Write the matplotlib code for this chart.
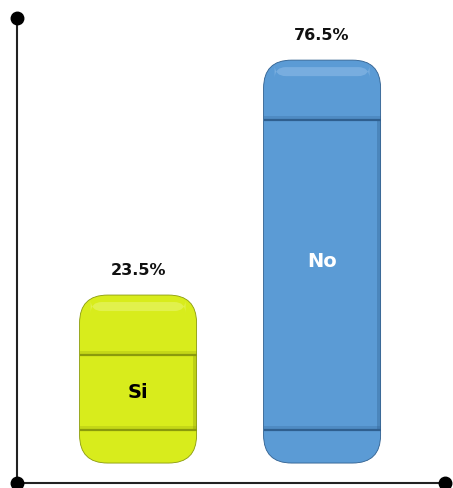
import matplotlib
matplotlib.use("Agg")
import matplotlib.pyplot as plt
from matplotlib.patches import FancyBboxPatch
import numpy as np

categories = ["Si", "No"]
values = [23.5, 76.5]
value_labels = ["23.5%", "76.5%"]
colors = ["#d8ec1c", "#5b9bd5"]
dark_colors = ["#8a9a0c", "#2f5f8f"]
light_colors = ["#eef88a", "#9cc5ec"]
inner_text_colors = ["black", "white"]

W, H = 453, 488
fig = plt.figure(figsize=(W / 100, H / 100), dpi=100)
ax_left, ax_right, ax_top, ax_bot = 17, 445, 18, 483
ax = fig.add_axes([ax_left / W, (H - ax_bot) / H, (ax_right - ax_left) / W, (ax_bot - ax_top) / H])

xmin, xmax = -0.658, 1.668
ymin, ymax = -4.5, 100.4
ax.set_xlim(xmin, xmax)
ax.set_ylim(ymin, ymax)

px_x = (ax_right - ax_left) / (xmax - xmin)
px_y = (ax_bot - ax_top) / (ymax - ymin)
aspect = px_x / px_y

CAP = 14.4          # fixed top cap of the shape (value units)
bar_w = 0.636
r_px = 28
rx = r_px / px_x
top_cap = 60 / px_y
bot_cap = 33 / px_y

for i, (cat, v) in enumerate(zip(categories, values)):
    x0 = i - bar_w / 2
    h = v + CAP
    body = FancyBboxPatch((x0, 0), bar_w, h,
                          boxstyle=f"round,pad=0,rounding_size={rx}",
                          mutation_aspect=aspect, facecolor=colors[i],
                          edgecolor=dark_colors[i], linewidth=0.6, zorder=2)
    ax.add_patch(body)
    # soft highlight near top
    hl = FancyBboxPatch((x0 + 0.06, h - 16 / px_y), bar_w - 0.12, 9 / px_y,
                        boxstyle=f"round,pad=0,rounding_size={rx*0.4}",
                        mutation_aspect=aspect, facecolor=light_colors[i],
                        edgecolor="none", alpha=0.45, zorder=3)
    ax.add_patch(hl)
    # bands
    y_top_band = h - top_cap
    y_bot_band = bot_cap
    for yb in (y_top_band, y_bot_band):
        ax.plot([x0, x0 + bar_w], [yb, yb], color=dark_colors[i], lw=1.6, zorder=4,
                solid_capstyle="butt")
        ax.fill_between([x0, x0 + bar_w], yb, yb + 4 / px_y, color=dark_colors[i],
                        alpha=0.25, lw=0, zorder=3)
    # right-side shading of the middle section
    ax.fill_between([x0 + bar_w - 4 / px_x, x0 + bar_w], y_bot_band, y_top_band,
                    color=dark_colors[i], alpha=0.35, lw=0, zorder=3)
    # value label above
    ax.text(i, h + 17 / px_y, value_labels[i], ha="center", va="bottom",
            fontsize=11.5, fontweight="bold", color="#111111", zorder=5)
    # category label inside
    ax.text(i, (y_top_band + y_bot_band) / 2 if i == 0 else h * 0.5, cat,
            ha="center", va="center", fontsize=14, fontweight="bold",
            color=inner_text_colors[i], zorder=5)

for s in ["top", "right"]:
    ax.spines[s].set_visible(False)
for s in ["left", "bottom"]:
    ax.spines[s].set_color("#222222")
    ax.spines[s].set_linewidth(1.5)
ax.set_xticks([])
ax.set_yticks([])

ax.plot([xmin, xmin, xmax], [ymax, ymin, ymin], linestyle="none", marker="o",
        markersize=9, color="black", clip_on=False, zorder=6)

fig.savefig("out.png", dpi=100)
